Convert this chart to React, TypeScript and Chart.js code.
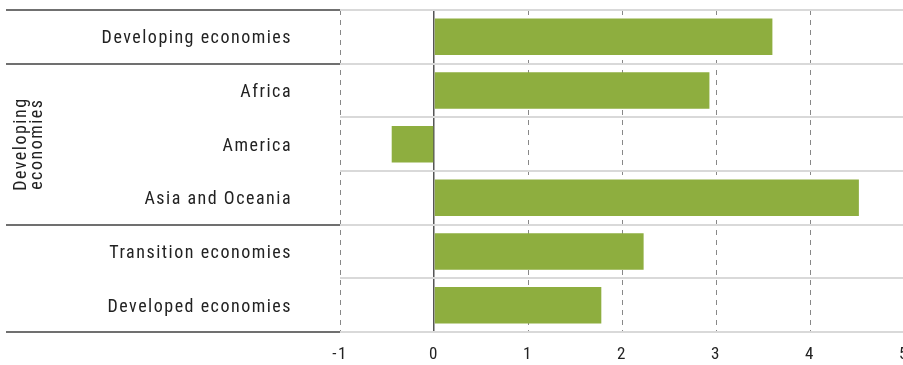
import React, { useEffect, useRef } from "react";
import { Chart, registerables } from "chart.js";

Chart.register(...registerables);

const categories = [
  "Developing economies",
  "Africa",
  "America",
  "Asia and Oceania",
  "Transition economies",
  "Developed economies",
];
const values = [3.6, 2.93, -0.45, 4.52, 2.23, 1.78];
const xMin = -1;
const xMax = 5;
const groupBreaks = [0, 1, 4, 6];
const groupLabel = ["Developing", "economies"];
const groupRange = [1, 3];

const FONT = "'Roboto Condensed', 'Liberation Sans', sans-serif";
const BAR = "#8eae3f";

export default function App() {
  const ref = useRef<HTMLCanvasElement | null>(null);
  useEffect(() => {
    const canvas = ref.current!;
    const sidePlugin = {
      id: "side",
      beforeDraw(chart: any) {
        (chart.ctx as any).letterSpacing = "1.5px";
      },
      afterDraw(chart: any) {
        const ctx = chart.ctx;
        const y = chart.scales.y;
        const area = chart.chartArea;
        const boundary = (i: number) => {
          if (i <= 0) return area.top;
          if (i >= categories.length) return area.bottom;
          return (y.getPixelForValue(i - 1) + y.getPixelForValue(i)) / 2;
        };
        ctx.save();
        ctx.strokeStyle = "#707070";
        ctx.lineWidth = 2;
        groupBreaks.forEach((b) => {
          const py = Math.round(boundary(b));
          ctx.beginPath();
          ctx.moveTo(6, py);
          ctx.lineTo(area.left, py);
          ctx.stroke();
        });
        const top = boundary(groupRange[0]);
        const bot = boundary(groupRange[1] + 1);
        const cy = (top + bot) / 2;
        ctx.translate(29, cy);
        ctx.rotate(-Math.PI / 2);
        ctx.fillStyle = "#222";
        ctx.font = "18px " + FONT;
        (ctx as any).letterSpacing = "1.5px";
        ctx.textAlign = "center";
        ctx.textBaseline = "middle";
        ctx.fillText(groupLabel[0], 0, -8);
        ctx.fillText(groupLabel[1], 0, 8);
        ctx.restore();
      },
    };
    const chart = new Chart(canvas, {
      type: "bar",
      data: {
        labels: categories,
        datasets: [
          {
            data: values,
            backgroundColor: BAR,
            barPercentage: 0.68,
            categoryPercentage: 1,
          },
        ],
      },
      options: {
        indexAxis: "y",
        animation: false,
        responsive: false,
        maintainAspectRatio: false,
        layout: { padding: { top: 10, right: 16, left: 0, bottom: 0 } },
        plugins: {
          legend: { display: false },
          tooltip: { enabled: false },
        },
        scales: {
          x: {
            min: xMin,
            max: xMax,
            ticks: {
              stepSize: 1,
              color: "#222",
              font: { family: FONT, size: 17 },
              padding: 13,
            },
            grid: {
              drawTicks: false,
              color: (c: any) => (c.tick && c.tick.value === 0 ? "#555" : "#888"),
              lineWidth: (c: any) => (c.tick && c.tick.value === 0 ? 1.5 : 1),
            },
            border: {
              display: false,
              dash: (c: any) => (c.tick && c.tick.value === 0 ? [] : [5, 5]),
            },
            afterFit: (s: any) => {
              s.height = 33;
              s.paddingLeft = 0;
              s.paddingRight = 0;
            },
          },
          y: {
            ticks: {
              color: "#222",
              font: { family: FONT, size: 18 },
              padding: 48,
              labelOffset: 2,
            },
            grid: {
              drawTicks: false,
              color: "#d9d9d9",
              lineWidth: 2,
            },
            border: { display: false },
            afterFit: (s: any) => {
              s.width = 340;
              s.paddingTop = 0;
              s.paddingBottom = 0;
            },
          },
        },
      },
      plugins: [sidePlugin],
    });
    return () => chart.destroy();
  }, []);
  return (
    <div
      style={{
        position: "fixed",
        left: 0,
        top: 0,
        width: 903,
        height: 365,
        overflow: "hidden",
        background: "#fff",
      }}
    >
      <canvas ref={ref} width={920} height={365} style={{ width: 920, height: 365 }} />
    </div>
  );
}
